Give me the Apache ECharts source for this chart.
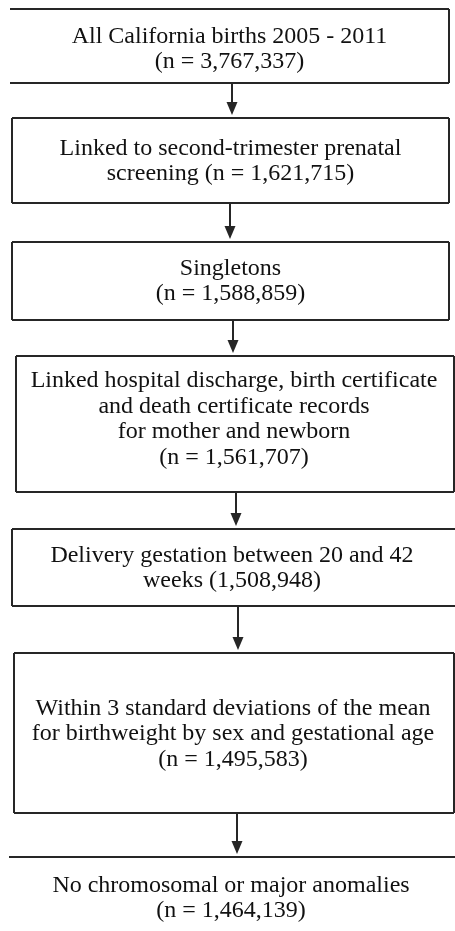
<!DOCTYPE html>
<html>
<head>
<meta charset="utf-8">
<script src="https://cdn.jsdelivr.net/npm/echarts@6/dist/echarts.min.js"></script>
<style>
  html, body { margin: 0; padding: 0; background: #ffffff; }
  #chart { width: 455px; height: 931px; }
</style>
</head>
<body>
<div id="chart"></div>
<script>
// ---- Data ----
const stepLabels = [
  ["All California births 2005 - 2011", "(n = {n})"],
  ["Linked to second-trimester prenatal", "screening (n = {n})"],
  ["Singletons", "(n = {n})"],
  ["Linked hospital discharge, birth certificate", "and death certificate records", "for mother and newborn", "(n = {n})"],
  ["Delivery gestation between 20 and 42", "weeks ({n})"],
  ["Within 3 standard deviations of the mean", "for birthweight by sex and gestational age", "(n = {n})"],
  ["No chromosomal or major anomalies", "(n = {n})"]
];
const stepCounts = [3767337, 1621715, 1588859, 1561707, 1508948, 1495583, 1464139];

// ---- Layout (positions / sizes only) ----
const boxTop    = [9, 118, 242, 356, 529, 653, 857];
const boxBottom = [83, 203, 320, 492, 606, 813, 960];
const boxLeft   = [10, 12, 12, 16, 12, 14, 9];
const boxRight  = [449, 449, 449, 454, 460, 454, 460];
const drawLeft  = [false, true, true, true, true, true, false];
const drawRight = [true, true, true, true, false, true, false];
const arrowX    = [232, 230, 233, 236, 238, 237];
const textCenterY = [49, 161, 281, 419, 568, 734, 898];
const lineGap = 25.5;
const fontSize = 24;
const strokeColor = '#262626';
const textColor = '#111111';

function fmt(n) { return n.toLocaleString('en-US'); }

const elements = [];
stepLabels.forEach((lines, i) => {
  const t = boxTop[i], b = boxBottom[i], l = boxLeft[i], r = boxRight[i];
  elements.push({ type: 'line', shape: { x1: l, y1: t, x2: r, y2: t }, style: { stroke: strokeColor, lineWidth: 2 } });
  if (b < 931) elements.push({ type: 'line', shape: { x1: l, y1: b, x2: r, y2: b }, style: { stroke: strokeColor, lineWidth: 2 } });
  if (drawLeft[i]) elements.push({ type: 'line', shape: { x1: l, y1: t, x2: l, y2: b }, style: { stroke: strokeColor, lineWidth: 2 } });
  if (drawRight[i]) elements.push({ type: 'line', shape: { x1: r, y1: t, x2: r, y2: b }, style: { stroke: strokeColor, lineWidth: 2 } });
  const cx = (Math.max(l, 10) + Math.min(r, 452)) / 2;
  const n = lines.length;
  lines.forEach((ln, k) => {
    const y = textCenterY[i] + (k - (n - 1) / 2) * lineGap;
    elements.push({
      type: 'text',
      x: cx, y: y,
      style: {
        text: ln.replace('{n}', fmt(stepCounts[i])),
        font: fontSize + 'px "Liberation Serif", "Times New Roman", serif',
        fill: textColor,
        align: 'center',
        verticalAlign: 'middle'
      }
    });
  });
  if (i < stepLabels.length - 1) {
    const ax = arrowX[i];
    const y0 = b, tip = boxTop[i + 1] - 3;
    const headH = 13, headW = 5.5;
    elements.push({ type: 'line', shape: { x1: ax, y1: y0, x2: ax, y2: tip - headH + 1 }, style: { stroke: strokeColor, lineWidth: 2 } });
    elements.push({ type: 'polygon', shape: { points: [[ax - headW, tip - headH], [ax + headW, tip - headH], [ax, tip]] }, style: { fill: strokeColor } });
  }
});

const chart = echarts.init(document.getElementById('chart'), null, { renderer: 'canvas' });
chart.setOption({
  backgroundColor: '#ffffff',
  animation: false,
  graphic: { elements: elements }
});
</script>
</body>
</html>
